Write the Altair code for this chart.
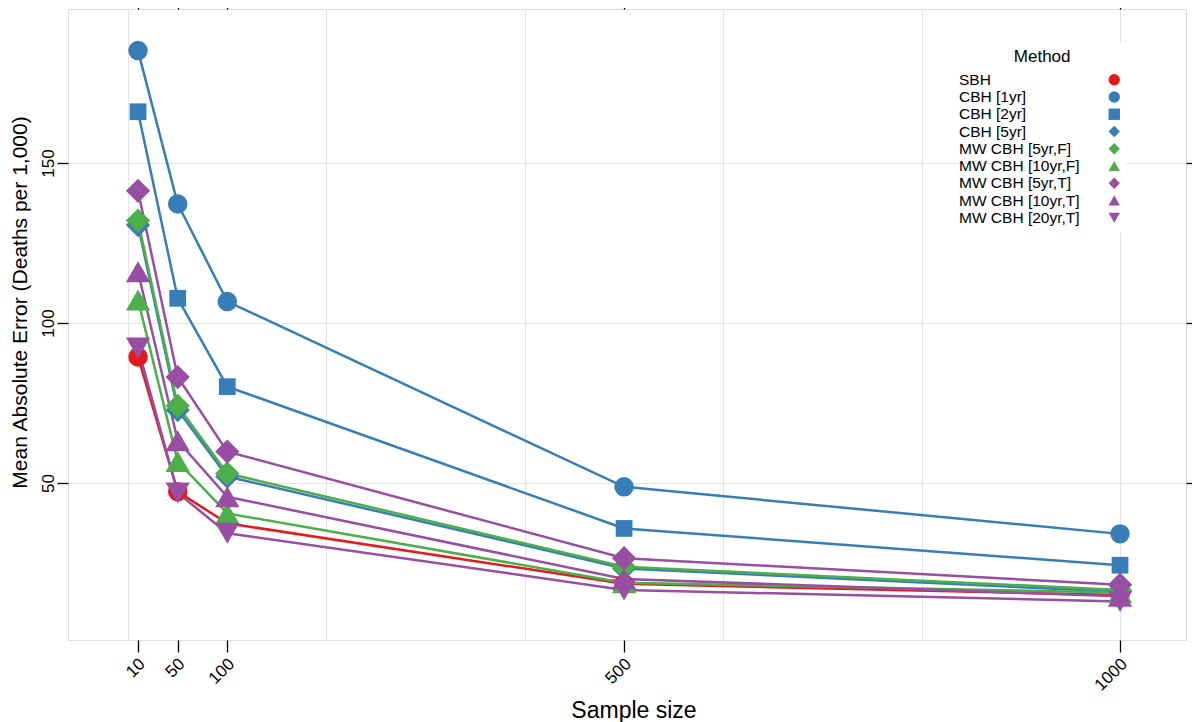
import altair as alt
import pandas as pd

sample_sizes = [10, 50, 100, 500, 1000]
methods = ["SBH", "CBH [1yr]", "CBH [2yr]", "CBH [5yr]", "MW CBH [5yr,F]",
           "MW CBH [10yr,F]", "MW CBH [5yr,T]", "MW CBH [10yr,T]", "MW CBH [20yr,T]"]

sbh = [89.4, 47.3, 37.4, 18.5, 15.0]
cbh_1yr = [185.1, 137.2, 106.7, 48.8, 34.1]
cbh_2yr = [166.0, 107.7, 80.1, 35.8, 24.3]
cbh_5yr = [130.6, 72.8, 52.0, 23.3, 16.0]
mw_5yr_f = [132.0, 74.1, 53.0, 23.8, 16.6]
mw_10yr_f = [107.2, 56.7, 40.5, 18.8, 15.8]
mw_5yr_t = [141.3, 83.1, 59.8, 26.5, 18.2]
mw_10yr_t = [116.0, 63.2, 45.7, 20.0, 14.6]
mw_20yr_t = [92.2, 46.9, 34.3, 16.6, 13.0]

series = [sbh, cbh_1yr, cbh_2yr, cbh_5yr, mw_5yr_f, mw_10yr_f, mw_5yr_t, mw_10yr_t, mw_20yr_t]

colors = ["#E41A1C", "#377EB8", "#377EB8", "#377EB8", "#4DAF4A",
          "#4DAF4A", "#984EA3", "#984EA3", "#984EA3"]
shapes = ["circle", "circle", "square", "diamond", "diamond",
          "triangle-up", "diamond", "triangle-up", "triangle-down"]
marker_sizes = [380, 380, 280, 590, 590, 590, 590, 590, 590]

y_ticks = [50, 100, 150]
x_grid = [0, 200, 400, 600, 800, 1000]

rows = []
for i, (m, vals) in enumerate(zip(methods, series)):
    for n, v in zip(sample_sizes, vals):
        rows.append({"Method": m, "order": i, "n": n, "mae": v, "msize": marker_sizes[i]})
df = pd.DataFrame(rows)

FONT = "Liberation Sans"
xscale = alt.Scale(domain=[-60.6, 1066.5], nice=False, zero=False)
yscale = alt.Scale(domain=[0.94, 198.1], nice=False, zero=False)
color_scale = alt.Scale(domain=methods, range=colors)
shape_scale = alt.Scale(domain=methods, range=shapes)

grid_layer = alt.Chart(df).mark_point(opacity=0).encode(
    x=alt.X("n:Q", scale=xscale,
            axis=alt.Axis(values=x_grid, grid=True, labels=False, ticks=False,
                          domain=False, title=None, gridColor="#e4e4e4", gridWidth=1.2)),
    y=alt.Y("mae:Q", scale=yscale,
            axis=alt.Axis(values=y_ticks, grid=True, labels=False, ticks=False,
                          domain=False, title=None, gridColor="#e4e4e4", gridWidth=1.2)),
)

line_layer = alt.Chart(df).mark_line(strokeWidth=2.5).encode(
    x=alt.X("n:Q", scale=xscale,
            axis=alt.Axis(values=sample_sizes, orient="bottom", grid=False, domain=False,
                          format="d",
                          tickSize=12, tickColor="black", tickWidth=1.3,
                          labelAngle=-45, labelAlign="right", labelBaseline="middle",
                          labelPadding=9, labelOffset=4, labelFontSize=17, labelColor="black",
                          labelFont=FONT,
                          title="Sample size", titleFontSize=23, titleFont=FONT,
                          titleFontWeight="normal", titleColor="black",
                          titleX=565.5, titleY=77, titleBaseline="alphabetic",
                          titleAlign="center")),
    y=alt.Y("mae:Q", scale=yscale,
            axis=alt.Axis(values=y_ticks, orient="left", grid=False, domain=False,
                          tickSize=11, tickColor="black", tickWidth=1.3,
                          labelAngle=-90, labelAlign="center", labelBaseline="alphabetic",
                          labelPadding=4, labelFontSize=17, labelColor="black", labelFont=FONT,
                          title="Mean Absolute Error (Deaths per 1,000)", titleFontSize=21,
                          titleFont=FONT, titleFontWeight="normal", titleColor="black",
                          titleAngle=-90, titleX=-42, titleY=293, titleBaseline="alphabetic",
                          titleAlign="center")),
    color=alt.Color("Method:N", scale=color_scale, legend=None),
    detail="Method:N",
)

legend = alt.Legend(
    orient="none", legendX=939.5, legendY=34, fillColor="white", padding=6,
    title="Method", titleFontSize=17, titleFont=FONT,
    titleFontWeight="normal", titleColor="black", titleAnchor="start",
    titleAlign="right", titlePadding=6,
    labelFontSize=15.5, labelFont=FONT, labelColor="black",
    labelOffset=alt.ExprRef("-163"), labelLimit=300,
    symbolOffset=36, symbolSize=130, symbolStrokeWidth=0, rowPadding=0.25,
)

point_layer = alt.Chart(df).mark_point(filled=True, opacity=1, strokeWidth=0).encode(
    x=alt.X("n:Q", scale=xscale, axis=None),
    y=alt.Y("mae:Q", scale=yscale, axis=None),
    color=alt.Color("Method:N", scale=color_scale, legend=legend),
    shape=alt.Shape("Method:N", scale=shape_scale, legend=legend),
    size=alt.Size("msize:Q", scale=None),
    order=alt.Order("order:Q"),
)

frame_layer = alt.Chart(df).mark_point(opacity=0).encode(
    x=alt.X("n:Q", scale=xscale,
            axis=alt.Axis(values=sample_sizes, orient="top", grid=False, labels=False,
                          domain=False, tickSize=9, tickColor="black", tickWidth=1.3,
                          title=None)),
    y=alt.Y("mae:Q", scale=yscale,
            axis=alt.Axis(values=y_ticks, orient="right", grid=False, labels=False,
                          domain=False, tickSize=14, tickColor="black", tickWidth=1.3,
                          title=None)),
)

chart = alt.layer(grid_layer, line_layer, point_layer, frame_layer).resolve_axis(
    x="independent", y="independent"
).resolve_legend(
    color="independent", shape="independent"
).properties(
    width=1118, height=631,
    autosize=alt.AutoSizeParams(type="none"),
    padding={"left": 60, "top": 1, "right": 6, "bottom": 82},
).configure_view(
    stroke="black", strokeWidth=1.4
).configure(
    font=FONT, background="white"
)

chart.save("out.html", embed_options={"renderer": "svg", "actions": False})
